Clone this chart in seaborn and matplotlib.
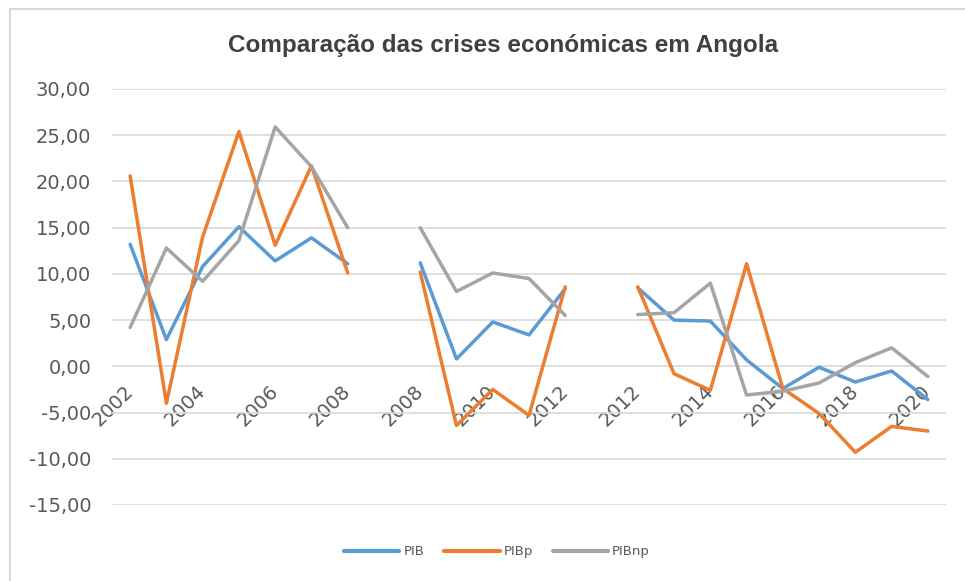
import numpy as np
import pandas as pd
import matplotlib
matplotlib.use('Agg')
import matplotlib.pyplot as plt
from matplotlib.patches import Rectangle
from matplotlib.lines import Line2D
import seaborn as sns

# three crisis windows, drawn as separate segments with one empty category between
years_a = [2002, 2003, 2004, 2005, 2006, 2007, 2008]
years_b = [2008, 2009, 2010, 2011, 2012]
years_c = [2012, 2013, 2014, 2015, 2016, 2017, 2018, 2019, 2020]

pib_a = [13.2, 2.9, 10.8, 15.1, 11.4, 13.9, 11.1]
pib_b = [11.2, 0.8, 4.8, 3.4, 8.4]
pib_c = [8.5, 5.0, 4.9, 0.7, -2.4, -0.1, -1.7, -0.5, -3.6]

pibp_a = [20.6, -4.0, 14.0, 25.4, 13.1, 21.7, 10.1]
pibp_b = [10.2, -6.4, -2.5, -5.3, 8.6]
pibp_c = [8.6, -0.8, -2.6, 11.1, -2.4, -5.1, -9.3, -6.5, -7.0]

pibnp_a = [4.2, 12.8, 9.2, 13.6, 25.9, 21.6, 15.0]
pibnp_b = [15.0, 8.1, 10.1, 9.5, 5.5]
pibnp_c = [5.6, 5.8, 9.0, -3.1, -2.7, -1.8, 0.4, 2.0, -1.1]

series_names = ["PIB", "PIBp", "PIBnp"]
colors = {"PIB": "#5B9BD5", "PIBp": "#ED7D31", "PIBnp": "#A5A5A5"}

segments = [years_a, years_b, years_c]
values = {
    "PIB": [pib_a, pib_b, pib_c],
    "PIBp": [pibp_a, pibp_b, pibp_c],
    "PIBnp": [pibnp_a, pibnp_b, pibnp_c],
}

# category positions (blank slot between segments)
rows = []
tick_labels = []
pos = 0
for s, yrs in enumerate(segments):
    for j, yr in enumerate(yrs):
        tick_labels.append(str(yr))
        for name in series_names:
            rows.append({"pos": pos, "value": values[name][s][j], "series": name, "segment": s})
        pos += 1
    if s < len(segments) - 1:
        tick_labels.append("")
        pos += 1
df = pd.DataFrame(rows)
n_cat = len(tick_labels)

sns.set_style("white")
plt.rcParams['font.family'] = ['DejaVu Sans']

fig = plt.figure(figsize=(9.65, 5.81), dpi=100)
ax = fig.add_axes([112 / 965, 76 / 581, 834 / 965, 416 / 581])

sns.lineplot(data=df, x="pos", y="value", hue="series", units="segment", estimator=None,
             palette=colors, hue_order=series_names, linewidth=2.5, ax=ax, legend=False,
             sort=False)
for ln in ax.get_lines():
    ln.set_solid_joinstyle('round')
    ln.set_solid_capstyle('round')

# horizontal axis sits on the zero line (must be set before tick labels)
for sp in ax.spines.values():
    sp.set_visible(False)
ax.spines['bottom'].set_position(('data', 0))

ax.set_xlim(-0.5, n_cat - 0.5)
ax.set_ylim(-15, 30)
ax.set_yticks(np.arange(-15, 31, 5))
ax.set_yticklabels([f"{v:.2f}".replace('.', ',') for v in np.arange(-15, 31, 5)],
                   fontsize=14, color="#595959")
ax.yaxis.grid(True, color="#D9D9D9", linewidth=1.2)
ax.set_axisbelow(True)
ax.tick_params(axis='y', length=0, pad=15)

# category labels along the zero line, every other category
xt = list(range(0, n_cat, 2))
ax.set_xticks(xt)
ax.set_xticklabels([tick_labels[i] for i in xt], fontsize=14, color="#595959")
ax.tick_params(axis='x', length=0, pad=16)
for lbl in ax.get_xticklabels():
    lbl.set_rotation(45)
    lbl.set_rotation_mode('anchor')
    lbl.set_ha('right')
    lbl.set_va('center')
ax.set_xlabel("")
ax.set_ylabel("")

fig.text(0.521, 0.922, "Comparação das crises económicas em Angola",
         family=['Liberation Sans', 'DejaVu Sans'], fontweight='bold',
         fontsize=17.5, color="#404040", ha='center', va='center')

handles = [Line2D([0], [0], color=colors[n], linewidth=3, solid_capstyle='round') for n in series_names]
fig.legend(handles, series_names, loc='center', bbox_to_anchor=(0.515, 0.05), ncol=3,
           frameon=False, fontsize=9.5, handlelength=4.2, handletextpad=0.3,
           columnspacing=1.5, labelcolor="#595959")

# chart area border (left and top edge visible)
fig.patches.append(Rectangle((9.5 / 965, -0.1), 1.2, 0.1 + 1 - 8.5 / 581, transform=fig.transFigure,
                             fill=False, edgecolor="#D9D9D9", linewidth=1.5))

fig.savefig("out.png", dpi=100)
